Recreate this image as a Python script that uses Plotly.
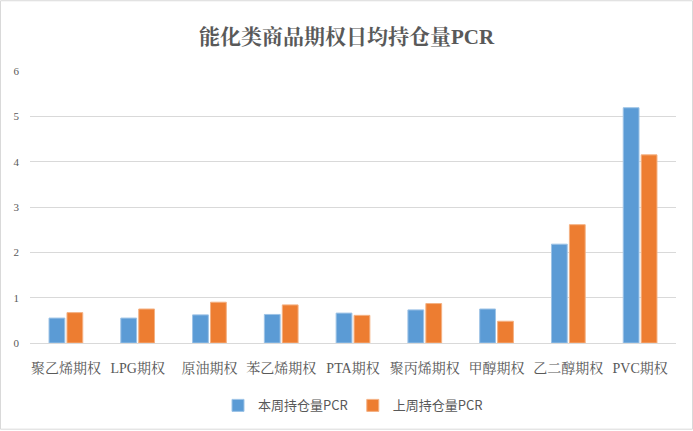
import plotly.graph_objects as go

# data
categories = ["聚乙烯期权", "LPG期权", "原油期权", "苯乙烯期权", "PTA期权",
              "聚丙烯期权", "甲醇期权", "乙二醇期权", "PVC期权"]
this_week = [0.55, 0.55, 0.62, 0.63, 0.66, 0.73, 0.75, 2.18, 5.19]
last_week = [0.67, 0.75, 0.90, 0.84, 0.61, 0.87, 0.48, 2.61, 4.15]

serif = "Liberation Serif, Noto Serif CJK SC, Noto Sans CJK SC, serif"
sans = "Noto Sans CJK SC, Noto Sans, sans-serif"

fig = go.Figure()
fig.add_trace(go.Bar(x=categories, y=this_week, name="本周持仓量PCR",
                     marker=dict(color="#5B9BD5", line=dict(color="#9DC3E6", width=1))))
fig.add_trace(go.Bar(x=categories, y=last_week, name="上周持仓量PCR",
                     marker=dict(color="#ED7D31", line=dict(color="#F4B183", width=1))))

fig.update_layout(
    width=693, height=431,
    margin=dict(l=30, r=17, t=71, b=87),
    paper_bgcolor="white", plot_bgcolor="white",
    title=dict(text="<b>能化类商品期权日均持仓量PCR</b>", x=0.5, xanchor="center",
               y=0.915, yanchor="middle",
               font=dict(family=serif, size=21, color="#595959")),
    barmode="group", bargap=0.5, bargroupgap=0.12,
    legend=dict(orientation="h", x=0.5, xanchor="center", y=-0.225, yanchor="middle",
                font=dict(family=sans, size=13, color="#595959"),
                itemwidth=30, traceorder="normal"),
    showlegend=True,
)
fig.update_xaxes(tickfont=dict(family=serif, size=14, color="#595959"),
                 showline=True, linecolor="#D9D9D9", linewidth=1, ticks="",
                 tickangle=0, ticklabelstandoff=12)
fig.update_yaxes(range=[0, 6], dtick=1, showgrid=True, gridcolor="#D9D9D9",
                 gridwidth=1, zeroline=False, showline=False,
                 tickfont=dict(family=serif, size=11, color="#595959"),
                 ticklabelstandoff=10)

# light border around the chart area
fig.add_shape(type="rect", xref="paper", yref="paper",
              x0=-29.5 / 646, x1=(692.5 - 30) / 646,
              y0=(344 - 430.5) / 273, y1=(344 - 0.5) / 273,
              line=dict(color="#D9D9D9", width=1))

fig.write_html("out.html", config={"displayModeBar": False},
               post_script="document.body.style.margin='0';")
